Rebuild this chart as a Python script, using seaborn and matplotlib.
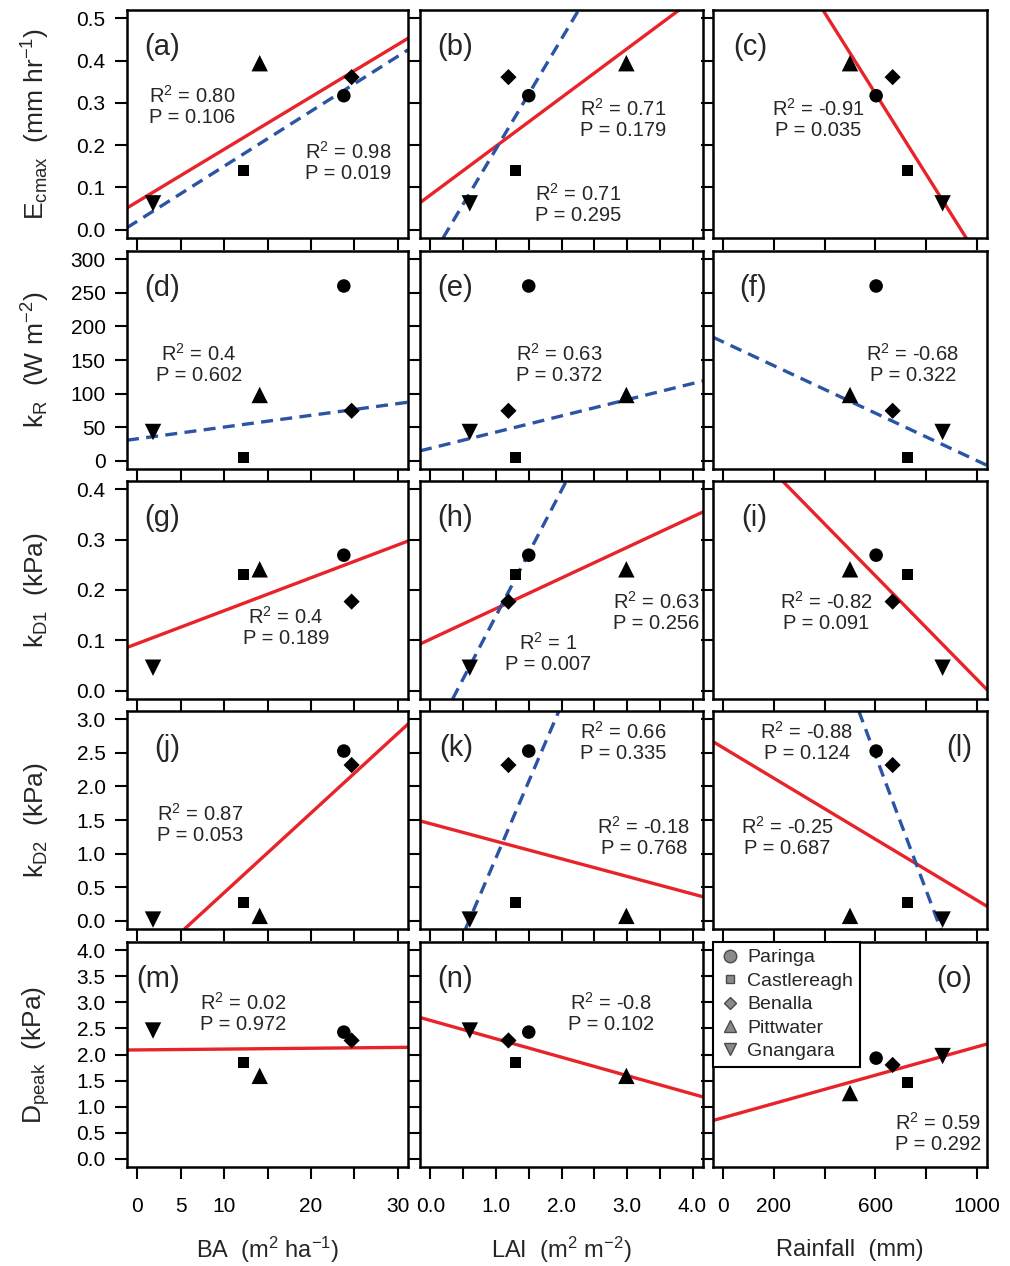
import numpy as np
import pandas as pd
import matplotlib
matplotlib.use("Agg")
import matplotlib.pyplot as plt
import seaborn as sns
from matplotlib.lines import Line2D

# ---------------- data ----------------
sites = ["Paringa", "Castlereagh", "Benalla", "Pittwater", "Gnangara"]
BA = [23.8, 12.2, 24.7, 14.1, 1.8]
LAI = [1.50, 1.30, 1.19, 2.99, 0.60]
rainfall = [603, 728, 668, 500, 865]

Ecmax = [0.317, 0.140, 0.361, 0.394, 0.062]
kR = [260, 5, 74.5, 98, 43]
kD1 = [0.269, 0.230, 0.177, 0.241, 0.046]
kD2 = [2.525, 0.268, 2.317, 0.075, 0.02]
Dpeak = [2.43, 1.84, 2.27, 1.59, 2.46]
Dpeak_rain = [1.93, 1.47, 1.80, 1.26, 1.97]

# regression lines (panel, kind, intercept, slope)
line_panel = ["a", "a", "b", "b", "c", "d", "e", "f", "g", "h", "h", "i",
              "j", "k", "k", "l", "l", "m", "n", "o"]
line_kind = ["solid", "dashed", "solid", "dashed", "solid", "dashed", "dashed",
             "dashed", "solid", "solid", "dashed", "solid", "solid", "solid",
             "dashed", "solid", "dashed", "solid", "solid", "solid"]
line_intercept = [0.066, 0.020, 0.082, -0.070, 0.896, 32.9, 18.8, 176.8,
                  0.0939, 0.1026, -0.100, 0.536, -0.762, 1.445, -1.334,
                  2.574, 8.487, 2.088, 2.654, 0.787]
line_slope = [0.0124, 0.0130, 0.1154, 0.2608, -0.000956, 1.742, 24.07, -0.1763,
              0.00651, 0.0606, 0.2488, -0.000513, 0.1182, -0.261, 2.272,
              -0.002266, -0.01004, 0.0016, -0.353, 0.00136]

# annotations
annot_panel = ["a", "a", "b", "b", "c", "d", "e", "f", "g", "h", "h", "i",
               "j", "k", "k", "l", "l", "m", "n", "o"]
annot_r2 = ["0.80", "0.98", "0.71", "0.71", "-0.91", "0.4", "0.63", "-0.68",
            "0.4", "0.63", "1", "-0.82", "0.87", "0.66", "-0.18", "-0.88",
            "-0.25", "0.02", "-0.8", "0.59"]
annot_p = ["0.106", "0.019", "0.179", "0.295", "0.035", "0.602", "0.372", "0.322",
           "0.189", "0.256", "0.007", "0.091", "0.053", "0.335", "0.768", "0.124",
           "0.687", "0.972", "0.102", "0.292"]
annot_xy = [(192, 106), (348, 162), (623, 119), (578, 204), (818, 119),
            (199, 364), (559, 364), (913, 364), (286, 627), (656, 612),
            (548, 653), (826, 612), (200, 824), (623, 742), (644, 837),
            (807, 742), (787, 837), (243, 1013), (611, 1013), (938, 1133)]

x_values = [BA, LAI, rainfall]
x_labels = ["BA  (m$^{2}$ ha$^{-1}$)", "LAI  (m$^{2}$ m$^{-2}$)", "Rainfall  (mm)"]
x_ticks = [[0, 5, 10, 15, 20, 25, 30],
           [0, 0.5, 1, 1.5, 2, 2.5, 3, 3.5, 4],
           [0, 200, 400, 600, 800, 1000]]
x_ticklabels = [["0", "5", "10", "", "20", "", "30"],
                ["0.0", "", "1.0", "", "2.0", "", "3.0", "", "4.0"],
                ["0", "200", "", "600", "", "1000"]]
x_lims = [(-1.2, 31.2), (-0.16, 4.16), (-40, 1040)]

y_values = [Ecmax, kR, kD1, kD2, Dpeak]
y_labels = ["E$_{cmax}$  (mm hr$^{-1}$)", "k$_{R}$  (W m$^{-2}$)",
            "k$_{D1}$  (kPa)", "k$_{D2}$  (kPa)", "D$_{peak}$  (kPa)"]
y_ticks = [[0, 0.1, 0.2, 0.3, 0.4, 0.5],
           [0, 50, 100, 150, 200, 250, 300],
           [0, 0.1, 0.2, 0.3, 0.4],
           [0, 0.5, 1, 1.5, 2, 2.5, 3],
           [0, 0.5, 1, 1.5, 2, 2.5, 3, 3.5, 4]]
y_ticklabels = [["0.0", "0.1", "0.2", "0.3", "0.4", "0.5"],
                ["0", "50", "100", "150", "200", "250", "300"],
                ["0.0", "0.1", "0.2", "0.3", "0.4"],
                ["0.0", "0.5", "1.0", "1.5", "2.0", "2.5", "3.0"],
                ["0.0", "0.5", "1.0", "1.5", "2.0", "2.5", "3.0", "3.5", "4.0"]]
y_lims = [(-0.02, 0.52), (-12, 312), (-0.016, 0.416), (-0.12, 3.12), (-0.16, 4.16)]

markers = {"Paringa": "o", "Castlereagh": "s", "Benalla": "D",
           "Pittwater": "^", "Gnangara": "v"}
sizes = {"Paringa": 95, "Castlereagh": 63, "Benalla": 68,
         "Pittwater": 140, "Gnangara": 140}

# ---------------- style ----------------
sns.set_style("ticks")
plt.rcParams["font.family"] = ["Liberation Sans", "DejaVu Sans"]
plt.rcParams["mathtext.fontset"] = "custom"
plt.rcParams["mathtext.rm"] = "Liberation Sans"
plt.rcParams["mathtext.it"] = "Liberation Sans:italic"
plt.rcParams["mathtext.default"] = "regular"

RED = "#E8232A"
BLUE = "#2B54A4"
TICK_FS = 15
ANN_FS = 14.5

W, H = 1010, 1266
fig = plt.figure(figsize=(W / 100, H / 100), dpi=100)

col_px = [(127, 408), (420, 703), (713, 987)]
row_px = [(10, 238), (251, 469), (481, 699), (711, 929), (942, 1167)]
label_right = [180, 473, 767]

letters = "abcdefghijklmno"
axes = {}
for r in range(5):
    for c in range(3):
        letter = letters[r * 3 + c]
        l, rr = col_px[c]
        t, b = row_px[r]
        ax = fig.add_axes([l / W, 1 - b / H, (rr - l) / W, (b - t) / H])
        axes[letter] = ax
        yv = Dpeak_rain if letter == "o" else y_values[r]
        df = pd.DataFrame({"site": sites, "x": x_values[c], "y": yv})
        sns.scatterplot(data=df, x="x", y="y", style="site", markers=markers,
                        size="site", sizes=sizes, color="black", linewidth=0,
                        legend=False, ax=ax, zorder=3)
        ax.set_xlabel("")
        ax.set_ylabel("")
        ax.set_xlim(*x_lims[c])
        ax.set_ylim(*y_lims[r])
        ax.set_xticks(x_ticks[c])
        ax.set_yticks(y_ticks[r])
        ax.set_xticklabels(x_ticklabels[c] if r == 4 else [""] * len(x_ticks[c]))
        ax.set_yticklabels(y_ticklabels[r] if c == 0 else [""] * len(y_ticks[r]))
        ax.tick_params(axis="both", direction="out", length=8.4, width=1.5,
                       labelsize=TICK_FS, colors="black")
        ax.tick_params(axis="x", pad=13)
        ax.tick_params(axis="y", pad=7)
        for s in ax.spines.values():
            s.set_visible(True)
            s.set_linewidth(1.8)
            s.set_color("black")
        # panel letter
        px = 972 if letter in ("l", "o") else label_right[c]
        ax.text(px / W, 1 - (t + 37) / H, f"({letter})", transform=fig.transFigure,
                ha="right", va="center", fontsize=21)

# regression lines
for p, k, b0, m in zip(line_panel, line_kind, line_intercept, line_slope):
    ax = axes[p]
    if k == "solid":
        ax.axline((0, b0), slope=m, color=RED, lw=2.4, zorder=2)
    else:
        ax.axline((0, b0), slope=m, color=BLUE, lw=2.4, linestyle=(0, (3.6, 2.2)), zorder=2)

# annotations
for p, r2, pv, (xp, yp) in zip(annot_panel, annot_r2, annot_p, annot_xy):
    axes[p].text(xp / W, 1 - yp / H, f"R$^{{2}}$ = {r2}\nP = {pv}",
                 transform=fig.transFigure, ha="center", va="center",
                 multialignment="center", fontsize=ANN_FS, linespacing=1.08, zorder=5)

# axis labels
for r in range(5):
    t, b = row_px[r]
    fig.text(36 / W, 1 - ((t + b) / 2) / H, y_labels[r], rotation=90,
             ha="center", va="center", fontsize=19)
for c in range(3):
    l, rr = col_px[c]
    fig.text(((l + rr) / 2) / W, 1 - 1250 / H, x_labels[c],
             ha="center", va="center", fontsize=17)

# legend in panel (o)
handles = [Line2D([], [], marker=markers[s], linestyle="none",
                  markerfacecolor="#8a8a8a", markeredgecolor="#4a4a4a",
                  markeredgewidth=1.0,
                  markersize={"Paringa": 9.0, "Castlereagh": 5.5, "Benalla": 6.0,
                              "Pittwater": 9.0, "Gnangara": 9.0}[s])
           for s in sites]
leg = axes["o"].legend(handles, sites, loc="upper left", bbox_to_anchor=(0, 1),
                       borderaxespad=0, frameon=True, fancybox=False,
                       edgecolor="black", framealpha=1, fontsize=14,
                       handlelength=1.0, handletextpad=0.4, borderpad=0.35,
                       labelspacing=0.3)
leg.get_frame().set_linewidth(1.5)

fig.savefig("out.png", dpi=100)
